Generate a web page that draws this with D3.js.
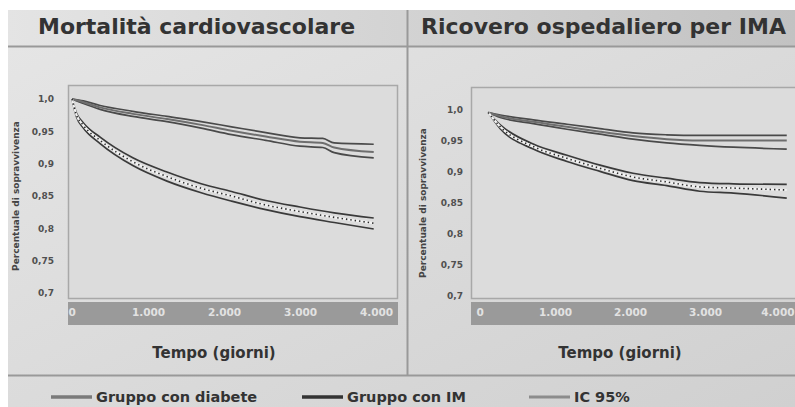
<!DOCTYPE html>
<html>
<head>
<meta charset="utf-8">
<script src="https://cdn.jsdelivr.net/npm/d3@7"></script>
<style>
  body { margin: 0; background: #fff; }
  svg { display: block; font-family: "DejaVu Sans", Verdana, sans-serif; }
</style>
</head>
<body>
<svg width="795" height="407"></svg>
<script>
// Dati (giorni, probabilita di sopravvivenza)
const titles = ['Mortalità cardiovascolare', 'Ricovero ospedaliero per IMA'];
const yTicks = [0.7, 0.75, 0.8, 0.85, 0.9, 0.95, 1.0];
const yTickLabels = ['0,7', '0,75', '0,8', '0,85', '0,9', '0,95', '1,0'];
const xTicks = [0, 1000, 2000, 3000, 4000];
const xTickLabels = ['0', '1.000', '2.000', '3.000', '4.000'];
const legendLabels = ['Gruppo con diabete', 'Gruppo con IM', 'IC 95%'];

// pannello 1
const daysIM1 = [0, 150, 370, 800, 1250, 1700, 2100, 2550, 3000, 3300, 3450, 3970];
const imMid1  = [1.0, 0.995, 0.987, 0.977, 0.969, 0.960, 0.951, 0.942, 0.934, 0.932, 0.925, 0.918];
const imHigh1 = [1.0, 0.997, 0.990, 0.981, 0.973, 0.965, 0.957, 0.948, 0.940, 0.939, 0.932, 0.930];
const imLow1  = [1.0, 0.993, 0.984, 0.973, 0.965, 0.955, 0.945, 0.936, 0.927, 0.925, 0.917, 0.909];
const daysDM1 = [0, 60, 150, 370, 800, 1250, 1700, 2100, 2550, 3000, 3450, 3970];
const dmMid1  = [1.0, 0.975, 0.959, 0.936, 0.903, 0.880, 0.862, 0.850, 0.836, 0.826, 0.817, 0.808];
const dmHigh1 = [1.0, 0.978, 0.963, 0.941, 0.909, 0.887, 0.869, 0.857, 0.843, 0.833, 0.824, 0.816];
const dmLow1  = [1.0, 0.972, 0.955, 0.931, 0.897, 0.873, 0.855, 0.842, 0.829, 0.818, 0.809, 0.799];

// pannello 2
const days2   = [110, 270, 710, 1160, 1600, 2040, 2490, 2930, 3380, 4090];
const imMid2  = [0.996, 0.990, 0.981, 0.973, 0.965, 0.958, 0.953, 0.951, 0.951, 0.951];
const imHigh2 = [0.996, 0.992, 0.984, 0.977, 0.970, 0.963, 0.960, 0.959, 0.959, 0.959];
const imLow2  = [0.996, 0.988, 0.978, 0.969, 0.961, 0.953, 0.947, 0.943, 0.940, 0.937];
const dmMid2  = [0.996, 0.973, 0.941, 0.922, 0.906, 0.892, 0.884, 0.876, 0.874, 0.871];
const dmHigh2 = [0.996, 0.976, 0.945, 0.927, 0.911, 0.898, 0.890, 0.883, 0.881, 0.880];
const dmLow2  = [0.996, 0.970, 0.937, 0.917, 0.901, 0.886, 0.878, 0.869, 0.866, 0.858];

const svg = d3.select('svg');

// sfondo
const defs = svg.append('defs');
const hg = defs.append('linearGradient').attr('id', 'head').attr('x1', 0).attr('x2', 1);
hg.append('stop').attr('offset', 0).attr('stop-color', '#e4e4e4');
hg.append('stop').attr('offset', 1).attr('stop-color', '#c2c2c2');
const bg = defs.append('linearGradient').attr('id', 'bg').attr('x1', 0).attr('x2', 1).attr('y1', 0).attr('y2', 1);
bg.append('stop').attr('offset', 0).attr('stop-color', '#e6e6e6');
bg.append('stop').attr('offset', 1).attr('stop-color', '#d0d0d0');

svg.append('rect').attr('width', 795).attr('height', 407).attr('fill', '#fff');
svg.append('rect').attr('x', 8).attr('y', 10).attr('width', 787).attr('height', 397).attr('fill', 'url(#bg)');
svg.append('rect').attr('x', 8).attr('y', 10).attr('width', 787).attr('height', 36).attr('fill', 'url(#head)');
svg.append('line').attr('x1', 8).attr('x2', 795).attr('y1', 46.5).attr('y2', 46.5).attr('stroke', '#999').attr('stroke-width', 2);
svg.append('line').attr('x1', 8).attr('x2', 795).attr('y1', 375.5).attr('y2', 375.5).attr('stroke', '#999').attr('stroke-width', 2);
svg.append('line').attr('x1', 407.5).attr('x2', 407.5).attr('y1', 10).attr('y2', 375).attr('stroke', '#999').attr('stroke-width', 2);

const panels = [
  { title: titles[0], tx: 38, box: [68, 85, 397, 298], yr: [293, 99], xr: [72, 376], yl: 54, ylab: 16, tempo: 214,
    im: [daysIM1, imLow1, imHigh1, imMid1], dm: [daysDM1, dmLow1, dmHigh1, dmMid1] },
  { title: titles[1], tx: 421, box: [471, 87, 800, 298], yr: [296, 110], xr: [480, 780], yl: 463, ylab: 423, tempo: 620,
    im: [days2, imLow2, imHigh2, imMid2], dm: [days2, dmLow2, dmHigh2, dmMid2] }
];

panels.forEach(p => {
  const g = svg.append('g');
  g.append('text').attr('x', p.tx).attr('y', 34).text(p.title)
    .attr('font-size', 22).attr('font-weight', 'bold').attr('fill', '#333');

  const [x0, y0, x1, y1] = p.box;
  g.append('rect').attr('x', x0 + 0.5).attr('y', y0 + 0.5).attr('width', x1 - x0).attr('height', y1 - y0)
    .attr('fill', '#dcdcdc').attr('stroke', '#a8a8a8').attr('stroke-width', 1.5);
  // banda asse x
  g.append('rect').attr('x', x0).attr('y', 302).attr('width', x1 - x0 + 1).attr('height', 23).attr('fill', '#9a9a9a');

  const x = d3.scaleLinear().domain([0, 4000]).range(p.xr);
  const y = d3.scaleLinear().domain([0.7, 1.0]).range(p.yr);

  const yAxis = g.append('g').attr('transform', `translate(${p.yl},0)`)
    .call(d3.axisLeft(y).tickValues(yTicks).tickSize(0).tickFormat((d, i) => yTickLabels[i]));
  yAxis.select('.domain').remove();
  yAxis.selectAll('text').attr('font-size', 9).attr('font-weight', 'bold').attr('fill', '#505050')
    .attr('font-family', '"DejaVu Sans", sans-serif').attr('x', 0);

  const xAxis = g.append('g').attr('transform', 'translate(0,308)')
    .call(d3.axisBottom(x).tickValues(xTicks).tickSize(0).tickFormat((d, i) => xTickLabels[i]));
  xAxis.select('.domain').remove();
  xAxis.selectAll('text').attr('font-size', 10.5).attr('font-weight', 'bold').attr('fill', '#e2e2e2')
    .attr('font-family', '"DejaVu Sans", sans-serif').attr('dy', '0.5em');
  xAxis.selectAll('.tick').filter(d => d === 0).select('text').attr('text-anchor', 'start').attr('dx', -4);
  // l'ultima etichetta non deve uscire dalla pagina
  xAxis.selectAll('.tick').filter(d => d === 4000 && x(d) > 770).select('text')
    .attr('text-anchor', 'end').attr('dx', 794 - x(4000));

  g.append('text').attr('transform', `translate(${p.ylab},${(p.yr[0] + p.yr[1]) / 2}) rotate(-90)`)
    .attr('text-anchor', 'middle').attr('dy', '0.35em').text('Percentuale di sopravvivenza')
    .attr('font-size', 9).attr('font-weight', 'bold').attr('fill', '#444');

  g.append('text').attr('x', p.tempo).attr('y', 358).attr('text-anchor', 'middle').text('Tempo (giorni)')
    .attr('font-size', 15).attr('font-weight', 'bold').attr('fill', '#333');

  const clipId = 'clip' + p.tx;
  defs.append('clipPath').attr('id', clipId).append('rect')
    .attr('x', x0).attr('y', y0).attr('width', x1 - x0).attr('height', y1 - y0);
  const plot = g.append('g').attr('clip-path', `url(#${clipId})`);

  const line = d3.line().x(d => x(d[0])).y(d => y(d[1])).curve(d3.curveMonotoneX);
  const pts = (days, vals) => days.map((d, i) => [d, vals[i]]);

  // Gruppo con IM
  const [dI, lI, hI, mI] = p.im;
  [lI, hI].forEach(v => plot.append('path').attr('d', line(pts(dI, v)))
    .attr('fill', 'none').attr('stroke', '#4a4a4a').attr('stroke-width', 1.7));
  plot.append('path').attr('d', line(pts(dI, mI))).attr('fill', 'none').attr('stroke', '#6e6e6e').attr('stroke-width', 2);

  // Gruppo con diabete
  const [dD, lD, hD, mD] = p.dm;
  [lD, hD].forEach(v => plot.append('path').attr('d', line(pts(dD, v)))
    .attr('fill', 'none').attr('stroke', '#3a3a3a').attr('stroke-width', 1.7));
  plot.append('path').attr('d', line(pts(dD, mD))).attr('fill', 'none').attr('stroke', '#f2f2f2').attr('stroke-width', 2.2);
  plot.append('path').attr('d', line(pts(dD, mD))).attr('fill', 'none').attr('stroke', '#2a2a2a')
    .attr('stroke-width', 1.6).attr('stroke-dasharray', '1.4,3');
});

// legenda
const legend = [
  { label: legendLabels[0], x: 51, color: '#7a7a7a', w: 3.5 },
  { label: legendLabels[1], x: 302, color: '#333', w: 3.5 },
  { label: legendLabels[2], x: 529, color: '#8c8c8c', w: 3 }
];
const lg = svg.append('g').selectAll('g').data(legend).join('g');
lg.append('line').attr('x1', d => d.x).attr('x2', d => d.x + 41).attr('y1', 397).attr('y2', 397)
  .attr('stroke', d => d.color).attr('stroke-width', d => d.w);
lg.append('text').attr('x', d => d.x + 45).attr('y', 402).text(d => d.label)
  .attr('font-size', 14.5).attr('font-weight', 'bold').attr('fill', '#333');
</script>
</body>
</html>
